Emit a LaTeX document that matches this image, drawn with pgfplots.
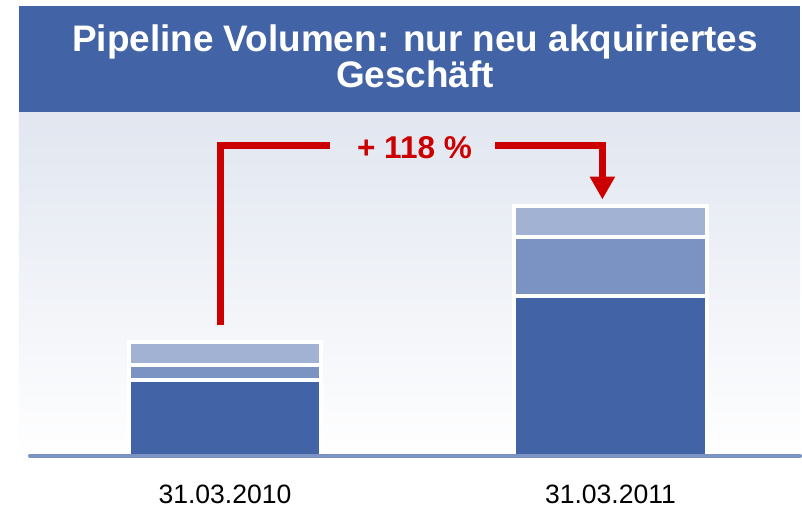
\documentclass[border=0pt]{standalone}
\usepackage{fontspec}
\setmainfont{Liberation Sans}
\usepackage{pgfplots}
\pgfplotsset{compat=1.18}
\usetikzlibrary{arrows.meta}

\definecolor{hdrblue}{HTML}{4264A6}
\definecolor{dkblue}{HTML}{4263A5}
\definecolor{mdblue}{HTML}{7B93C3}
\definecolor{ltblue}{HTML}{A2B2D3}
\definecolor{bgtop}{HTML}{E1E6F0}
\definecolor{arrred}{HTML}{CC0000}

\begin{document}
\begin{tikzpicture}[x=1pt,y=1pt]
% Rahmen 802x511
\path[fill=white] (0,0) rectangle (802,511);
\fill[hdrblue] (19,398) rectangle (802,505);
\shade[top color=bgtop, bottom color=white] (19,51) rectangle (802,398);
\node[text=white, font=\fontsize{37}{38}\selectfont\bfseries, anchor=base, inner sep=0pt]
  at (416,459) {Pipeline Volumen: nur neu akquiriertes};
\node[text=white, font=\fontsize{37}{38}\selectfont\bfseries, anchor=base, inner sep=0pt]
  at (416,423) {Geschäft};

\begin{axis}[
  at={(30pt,54pt)}, anchor=south west,
  scale only axis, width=772pt, height=344pt,
  xmin=-0.506, xmax=1.4916, ymin=0, ymax=344,
  ybar stacked, bar width=193pt,
  separate axis lines,
  axis x line*=bottom, axis y line=none,
  x axis line style={draw=mdblue, line width=4pt, line cap=round, -},
  xtick={0,1}, xticklabels={31.03.2010,31.03.2011},
  major tick length=0pt, ytick=\empty,
  xticklabel style={font=\fontsize{26.6}{28}\selectfont, anchor=base, yshift=-48pt, inner sep=0pt},
  axis on top, clip=false,
]
\addplot[fill=dkblue, draw=white, line width=4pt] coordinates {(0,76.5) (1,160.3)};
\addplot[fill=mdblue, draw=white, line width=4pt] coordinates {(0,14.5) (1,59.1)};
\addplot[fill=ltblue, draw=white, line width=4pt] coordinates {(0,23) (1,30.6)};

\draw[arrred, line width=7pt, line join=miter] (axis cs:-0.0116,131) |- (axis cs:0.273,311);
\draw[arrred, line width=7pt, line join=miter, -{Triangle[width=24pt,length=23pt]}]
  (axis cs:0.700,311) -| (axis cs:0.979,257);
\node[text=arrred, font=\fontsize{31.6}{32}\selectfont\bfseries, anchor=base, inner sep=0pt]
  at (axis cs:0.4916,298) {+ 118 \%};
\end{axis}
\end{tikzpicture}
\end{document}
